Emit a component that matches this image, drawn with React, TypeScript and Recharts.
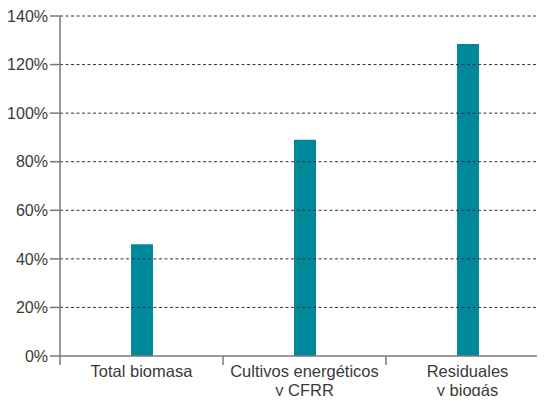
import React from "react";
import { BarChart, Bar, XAxis, YAxis, ReferenceLine } from "recharts";

const categories = ["Total biomasa", "Cultivos energéticos\ny CFRR", "Residuales\ny biogás"];
const values = [46, 89, 128.5];
const yTicks = [0, 20, 40, 60, 80, 100, 120, 140];

const chartData = categories.map((name, i) => ({ name, value: values[i] }));

const TEXT = "#3a3a3a";
const AXIS = "#7a7a7a";
const FONT = "'Liberation Sans', Arial, sans-serif";

function CategoryTick(props: any) {
  const { x, y, payload } = props;
  const half = payload?.offset ?? 81.5;
  const lines = String(payload.value).split("\n");
  return (
    <g>
      <line x1={x - half} y1={y} x2={x - half} y2={y + 9} stroke={AXIS} strokeWidth={1.5} />
      <text x={x} y={y} textAnchor="middle" fill={TEXT} fontSize={16.5} fontFamily={FONT}>
        {lines.map((l, i) => (
          <tspan key={i} x={x} dy={i === 0 ? 21 : 18.5}>
            {l}
          </tspan>
        ))}
      </text>
    </g>
  );
}

export default function App() {
  return (
    <div style={{ margin: -8, width: 545, height: 404, overflow: "hidden", background: "#fff" }}>
      <BarChart
        width={549}
        height={404}
        data={chartData}
        margin={{ top: 16, right: 0, left: 0, bottom: 0 }}
      >
        <XAxis
          dataKey="name"
          interval={0}
          height={48}
          tickLine={false}
          tickSize={0}
          tickMargin={0}
          axisLine={{ stroke: AXIS, strokeWidth: 1.5 }}
          tick={<CategoryTick />}
        />
        <YAxis
          width={60}
          domain={[0, 140]}
          ticks={yTicks}
          interval={0}
          tickFormatter={(v) => `${v}%`}
          tickSize={10}
          tickMargin={2}
          axisLine={{ stroke: AXIS, strokeWidth: 1.5 }}
          tickLine={{ stroke: AXIS, strokeWidth: 1.5 }}
          tick={{ fill: TEXT, fontSize: 16, fontFamily: FONT }}
        />
        <Bar dataKey="value" fill="#00899A" barSize={22} isAnimationActive={false} />
        {yTicks.slice(1).map((t) => (
          <ReferenceLine key={t} y={t} stroke="#333" strokeDasharray="3 2.5" strokeWidth={1} />
        ))}
      </BarChart>
    </div>
  );
}
